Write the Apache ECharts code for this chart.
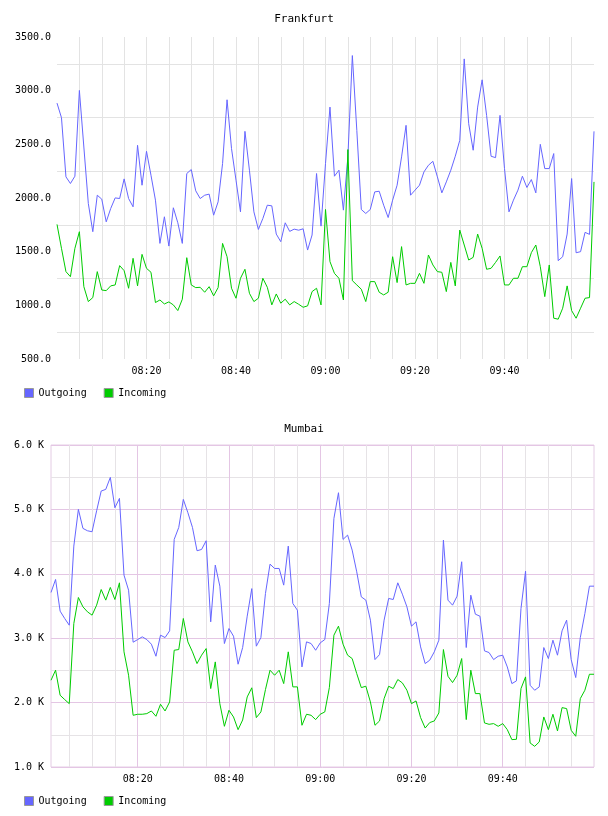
<!DOCTYPE html>
<html>
<head>
<meta charset="utf-8">
<script src="https://cdn.jsdelivr.net/npm/echarts@6/dist/echarts.min.js"></script>
<style>
html, body { margin: 0; padding: 0; background: #fff; }
.chart { width: 608px; height: 408px; }
</style>
</head>
<body>
<div id="frankfurt" class="chart"></div>
<div id="mumbai" class="chart"></div>
<script>
const FONT = 'DejaVu Sans Mono';

/** 时间刻度 */
const tickLabels = ['08:20', '08:40', '09:00', '09:20', '09:40'];
const seriesNames = ['Outgoing', 'Incoming'];

/** Frankfurt 08:00 - 10:00 每分钟 */
const frankfurtOut = [
    2884, 2748, 2197, 2135, 2203, 3002, 2475, 1949, 1686, 2026,
    1989, 1778, 1902, 2001, 1995, 2178, 1995, 1918, 2491, 2119,
    2435, 2212, 1980, 1577, 1825, 1552, 1909, 1769, 1577, 2228,
    2265, 2067, 1995, 2026, 2036, 1840, 1964, 2321, 2915, 2460,
    2166, 1871, 2621, 2259, 1871, 1707, 1809, 1933, 1927, 1664,
    1593, 1769, 1689, 1710, 1700, 1713, 1515, 1655, 2228, 1738,
    2321, 2847, 2203, 2259, 1887, 2383, 3327, 2630, 1893, 1856,
    1893, 2057, 2063, 1933, 1818, 1980, 2119, 2383, 2677, 2026,
    2073, 2119, 2243, 2305, 2342, 2197, 2048, 2150, 2259, 2389,
    2537, 3296, 2692, 2445, 2847, 3101, 2770, 2389, 2376, 2770,
    2274, 1871, 1980, 2073, 2203, 2098, 2172, 2048, 2500, 2274,
    2274, 2414, 1416, 1453, 1664, 2181, 1490, 1500, 1680, 1661,
    2621
];
const frankfurtIn = [
    1754, 1531, 1314, 1267, 1531, 1686, 1174, 1035, 1072, 1314,
    1143, 1137, 1181, 1190, 1370, 1323, 1159, 1438, 1181, 1475,
    1345, 1308, 1026, 1050, 1013, 1032, 1004, 951, 1057, 1444,
    1190, 1165, 1168, 1122, 1174, 1088, 1165, 1577, 1453, 1159,
    1066, 1252, 1336, 1112, 1035, 1066, 1252, 1168, 1004, 1106,
    1020, 1057, 1004, 1035, 1010, 982, 995, 1128, 1159, 1004,
    1893, 1407, 1298, 1252, 1050, 2451, 1230, 1190, 1150, 1035,
    1221, 1221, 1122, 1097, 1122, 1453, 1212, 1547, 1190, 1205,
    1205, 1298, 1205, 1469, 1376, 1314, 1308, 1128, 1400, 1181,
    1701, 1562, 1422, 1447, 1664, 1531, 1336, 1345, 1400, 1460,
    1190, 1190, 1252, 1252, 1360, 1360, 1491, 1562, 1360, 1081,
    1376, 880, 871, 973, 1181, 951, 880, 973, 1066, 1072,
    2150
];

/** Mumbai 08:01 - 10:00 每分钟 */
const mumbaiOut = [
    3710, 3912, 3420, 3306, 3202, 4430, 5000, 4705, 4668, 4653,
    4979, 5285, 5311, 5497, 5026, 5171, 3979, 3746, 2938, 2979,
    3021, 2979, 2907, 2720, 3047, 3010, 3114, 4534, 4720, 5155,
    4948, 4720, 4358, 4378, 4513, 3254, 4135, 3808, 2917, 3150,
    3031, 2596, 2855, 3342, 3770, 2876, 3010, 3694, 4150, 4083,
    4083, 3824, 4430, 3539, 3435, 2554, 2943, 2917, 2813, 2927,
    2979, 3539, 4860, 5259, 4534, 4601, 4368, 4031, 3642, 3591,
    3280, 2668, 2746, 3280, 3617, 3601, 3860, 3684, 3487, 3187,
    3254, 2865, 2606, 2658, 2788, 2969, 4523, 3591, 3513, 3653,
    4187, 2855, 3668, 3373, 3342, 2803, 2777, 2668, 2720, 2736,
    2554, 2295, 2337, 3461, 4041, 2269, 2192, 2244, 2855, 2684,
    2969, 2736, 3114, 3280, 2668, 2389, 3010, 3383, 3808, 3808
];
const mumbaiIn = [
    2347, 2503, 2114, 2047, 1984, 3228, 3632, 3487, 3409, 3358,
    3513, 3756, 3591, 3788, 3601, 3860, 2788, 2425, 1803, 1819,
    1819, 1829, 1870, 1788, 1974, 1870, 2010, 2813, 2824, 3306,
    2943, 2788, 2606, 2736, 2839, 2218, 2632, 1984, 1632, 1881,
    1777, 1580, 1730, 2088, 2230, 1767, 1855, 2202, 2503, 2425,
    2503, 2295, 2788, 2244, 2244, 1648, 1819, 1803, 1736, 1819,
    1855, 2233, 3047, 3187, 2907, 2736, 2684, 2451, 2233, 2254,
    2010, 1648, 1715, 2062, 2254, 2218, 2358, 2306, 2192, 1984,
    2026, 1767, 1605, 1690, 1715, 1839, 2824, 2409, 2311, 2425,
    2684, 1736, 2503, 2140, 2140, 1684, 1663, 1674, 1632, 1674,
    1580, 1425, 1430, 2218, 2399, 1373, 1321, 1389, 1777, 1580,
    1819, 1560, 1922, 1907, 1570, 1477, 2062, 2192, 2440, 2440
];

function minuteLabels(startMin, count) {
    const out = [];
    for (let i = 0; i < count; i++) {
        const m = startMin + i;
        out.push(String(8 + Math.floor(m / 60)).padStart(2, '0') + ':' + String(m % 60).padStart(2, '0'));
    }
    return out;
}

const frankfurtTimes = minuteLabels(0, frankfurtOut.length);
const mumbaiTimes = minuteLabels(1, mumbaiOut.length);

const minuteOf = v => +v.slice(3);

function buildOption(cfg) {
    const cats = cfg.times;
    const last = cats.length - 1;
    const inside = i => i > 0 && i < last;
    const textStyle = { fontFamily: FONT, fontSize: 10, color: '#000' };

    const xAxis = [{
        type: 'category',
        data: cats,
        boundaryGap: false,
        axisLine: { show: false },
        axisTick: { show: false },
        axisLabel: Object.assign({ interval: (i, v) => tickLabels.indexOf(v) >= 0, margin: 7 }, textStyle),
        splitLine: {
            show: true,
            interval: (i, v) => inside(i) && minuteOf(v) % 5 === 0 && !(cfg.major && minuteOf(v) % 20 === 0),
            lineStyle: { color: cfg.minorColor, width: 1 }
        }
    }];
    if (cfg.major) {
        // 20分钟主网格线
        xAxis.push({
            type: 'category',
            data: cats,
            boundaryGap: false,
            position: 'top',
            axisLine: { show: false },
            axisTick: { show: false },
            axisLabel: { show: false },
            splitLine: {
                show: true,
                interval: (i, v) => inside(i) && minuteOf(v) % 20 === 0,
                lineStyle: { color: cfg.major, width: 1 }
            }
        });
    }

    return {
        animation: false,
        backgroundColor: '#fff',
        title: {
            text: cfg.title,
            left: 'center',
            top: cfg.titleTop,
            padding: 0,
            textStyle: { fontFamily: FONT, fontSize: 11, fontWeight: 'normal', color: '#000' }
        },
        legend: {
            data: seriesNames,
            left: 24,
            top: 388,
            padding: 0,
            icon: 'rect',
            itemWidth: 9,
            itemHeight: 9,
            itemGap: 17,
            itemStyle: { borderColor: '#999', borderWidth: 1 },
            textStyle: textStyle
        },
        grid: {
            left: cfg.gridLeft,
            right: 14,
            top: 37,
            height: 322,
            show: !!cfg.border,
            borderColor: cfg.border || '#ccc',
            borderWidth: 1
        },
        xAxis: xAxis,
        yAxis: {
            type: 'value',
            min: cfg.yMin,
            max: cfg.yMax,
            interval: cfg.yStep,
            axisLine: { show: false },
            axisTick: { show: false },
            axisLabel: Object.assign({ formatter: cfg.yFormat, margin: cfg.labelMargin }, textStyle),
            splitLine: { show: !!cfg.major, lineStyle: { color: cfg.major || '#ccc', width: 1 } },
            minorTick: { show: false, splitNumber: 2 },
            minorSplitLine: { show: true, lineStyle: { color: cfg.minorColor, width: 1 } }
        },
        series: [
            { name: seriesNames[0], type: 'line', data: cfg.outData, color: '#6666ff', showSymbol: false, lineStyle: { width: 1 } },
            { name: seriesNames[1], type: 'line', data: cfg.inData, color: '#00cc00', showSymbol: false, lineStyle: { width: 1 } }
        ]
    };
}

const frankfurt = echarts.init(document.getElementById('frankfurt'));
frankfurt.setOption(buildOption({
    title: 'Frankfurt',
    titleTop: 14,
    times: frankfurtTimes,
    outData: frankfurtOut,
    inData: frankfurtIn,
    gridLeft: 57,
    yMin: 500,
    yMax: 3500,
    yStep: 500,
    yFormat: v => v.toFixed(1),
    labelMargin: 6,
    minorColor: '#e3e3e3'
}));

const mumbai = echarts.init(document.getElementById('mumbai'));
mumbai.setOption(buildOption({
    title: 'Mumbai',
    titleTop: 16,
    times: mumbaiTimes,
    outData: mumbaiOut,
    inData: mumbaiIn,
    gridLeft: 51,
    yMin: 1000,
    yMax: 6000,
    yStep: 1000,
    yFormat: v => (v / 1000).toFixed(1) + ' K',
    labelMargin: 7,
    minorColor: '#e6e3e6',
    major: '#e4c6e4',
    border: '#e4cce4'
}));
</script>
</body>
</html>
